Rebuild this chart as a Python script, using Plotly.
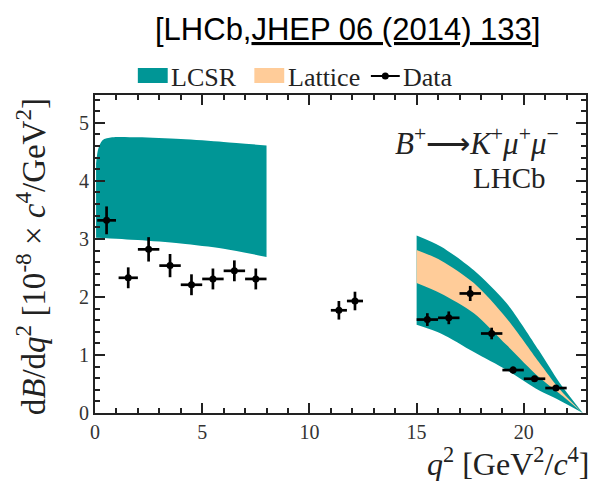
import plotly.graph_objects as go

# ---------------- data ----------------
bin_lo = [0.1, 1.1, 2.0, 3.0, 4.0, 5.0, 6.0, 7.0, 11.0, 11.75, 15.0, 16.0, 17.0, 18.0, 19.0, 20.0, 21.0]
bin_hi = [0.98, 2.0, 3.0, 4.0, 5.0, 6.0, 7.0, 8.0, 11.75, 12.5, 16.0, 17.0, 18.0, 19.0, 20.0, 21.0, 22.0]
dbdq2 = [3.32, 2.33, 2.82, 2.54, 2.21, 2.31, 2.45, 2.31, 1.77, 1.93, 1.61, 1.64, 2.06, 1.37, 0.74, 0.59, 0.43]
dbdq2_err = [0.24, 0.18, 0.21, 0.20, 0.18, 0.18, 0.18, 0.18, 0.16, 0.16, 0.11, 0.11, 0.13, 0.10, 0.06, 0.05, 0.04]

# LCSR band, low q2
lcsr_low_lo_x = [0.05, 2.0, 4.0, 6.0, 8.0]
lcsr_low_lo_y = [3.02, 2.98, 2.92, 2.83, 2.69]
lcsr_low_hi_x = [0.05, 0.15, 0.35, 0.8, 2.0, 4.0, 6.0, 8.0]
lcsr_low_hi_y = [4.30, 4.55, 4.70, 4.75, 4.75, 4.72, 4.67, 4.61]

# high q2 bands
hq_x = [15.0, 16.13, 17.67, 19.2, 20.7, 21.65, 22.75]
lcsr_high_lo_y = [1.52, 1.37, 1.05, 0.74, 0.39, 0.22, 0.0]
lcsr_high_hi_y = [3.06, 2.87, 2.46, 1.89, 1.08, 0.53, 0.0]
latt_lo_y = [2.24, 2.06, 1.72, 1.17, 0.62, 0.34, 0.0]
latt_hi_y = [2.81, 2.63, 2.24, 1.63, 0.88, 0.42, 0.0]

x_ticks = [0, 5, 10, 15, 20]
y_ticks = [0, 1, 2, 3, 4, 5]

TEAL = "rgb(0,150,150)"
ORANGE = "rgb(255,204,153)"
SERIF = "Liberation Serif"
SANS = "Liberation Sans"

# ---------------- layout geometry ----------------
W, H = 595, 481
L, R, T, B = 95, 7, 95, 68
PW, PH = W - L - R, H - T - B


def px(xp):
    return (xp - L) / PW


def py(yp):
    return (H - B - yp) / PH


fig = go.Figure()

centers = [(a + b) / 2 for a, b in zip(bin_lo, bin_hi)]
halfw = [(b - a) / 2 for a, b in zip(bin_lo, bin_hi)]

edge = dict(width=0, shape="spline", smoothing=0.8)

# LCSR low band
fig.add_trace(go.Scatter(x=lcsr_low_lo_x, y=lcsr_low_lo_y, mode="lines", line=edge,
                         showlegend=False, hoverinfo="skip"))
fig.add_trace(go.Scatter(x=lcsr_low_hi_x, y=lcsr_low_hi_y, mode="lines", line=edge,
                         fill="tonexty", fillcolor=TEAL, showlegend=False, name="LCSR"))
# LCSR high band
fig.add_trace(go.Scatter(x=hq_x, y=lcsr_high_lo_y, mode="lines", line=edge,
                         showlegend=False, hoverinfo="skip"))
fig.add_trace(go.Scatter(x=hq_x, y=lcsr_high_hi_y, mode="lines", line=edge,
                         fill="tonexty", fillcolor=TEAL, showlegend=False, name="LCSR"))
# Lattice band
fig.add_trace(go.Scatter(x=hq_x, y=latt_lo_y, mode="lines", line=edge,
                         showlegend=False, hoverinfo="skip"))
fig.add_trace(go.Scatter(x=hq_x, y=latt_hi_y, mode="lines", line=edge,
                         fill="tonexty", fillcolor=ORANGE, showlegend=False, name="Lattice"))

# Data
fig.add_trace(go.Scatter(
    x=centers, y=dbdq2, mode="markers", name="Data", showlegend=False,
    marker=dict(color="black", size=7),
    error_x=dict(type="data", array=halfw, width=0, thickness=2.7, color="black"),
    error_y=dict(type="data", array=dbdq2_err, width=0, thickness=2.7, color="black"),
))

axis_common = dict(
    showgrid=False, zeroline=False, showline=True, linewidth=2, linecolor="#222",
    mirror="allticks", ticks="inside", ticklen=10, tickwidth=2, tickcolor="#222",
    tickfont=dict(family=SERIF, size=20, color="#333"),
)

fig.update_xaxes(range=[0, 22.9], tickvals=x_ticks,
                 minor=dict(dtick=1, ticklen=5, tickwidth=2, tickcolor="#222", ticks="inside"),
                 **axis_common)
fig.update_yaxes(range=[0, 5.48], tickvals=y_ticks,
                 minor=dict(dtick=0.2, ticklen=5, tickwidth=2, tickcolor="#222", ticks="inside"),
                 **axis_common)

annotations = [
    dict(text="[LHCb,<u>JHEP 06 (2014) 133</u>]", x=px(349), y=py(30), xref="paper", yref="paper",
         showarrow=False, xanchor="center", yanchor="middle",
         font=dict(family=SANS, size=31, color="black")),
    dict(text="d<i>B</i>/d<i>q</i><sup>2</sup> [10<sup>-8</sup> × <i>c</i><sup>4</sup>/GeV<sup>2</sup>]",
         x=px(31), y=py(257), xref="paper", yref="paper", textangle=-90,
         showarrow=False, xanchor="center", yanchor="middle",
         font=dict(family=SERIF, size=33, color="#222")),
    dict(text="<i>q</i><sup>2</sup> [GeV<sup>2</sup>/<i>c</i><sup>4</sup>]",
         x=px(593), y=py(462), xref="paper", yref="paper",
         showarrow=False, xanchor="right", yanchor="middle",
         font=dict(family=SERIF, size=32, color="#222")),
    dict(text="<i>B</i><sup>+</sup>⟶<i>K</i><sup>+</sup><i>μ</i><sup>+</sup><i>μ</i><sup>−</sup>",
         x=px(563), y=py(141), xref="paper", yref="paper",
         showarrow=False, xanchor="right", yanchor="middle",
         font=dict(family=SERIF, size=31, color="#222")),
    dict(text="LHCb", x=px(550), y=py(178), xref="paper", yref="paper",
         showarrow=False, xanchor="right", yanchor="middle",
         font=dict(family=SERIF, size=29, color="#222")),
    # legend texts
    dict(text="LCSR", x=px(169), y=py(77), xref="paper", yref="paper",
         showarrow=False, xanchor="left", yanchor="middle",
         font=dict(family=SERIF, size=26, color="#222")),
    dict(text="Lattice", x=px(287), y=py(77), xref="paper", yref="paper",
         showarrow=False, xanchor="left", yanchor="middle",
         font=dict(family=SERIF, size=26, color="#222")),
    dict(text="Data", x=px(402), y=py(77), xref="paper", yref="paper",
         showarrow=False, xanchor="left", yanchor="middle",
         font=dict(family=SERIF, size=26, color="#222")),
]
fig.update_layout(annotations=annotations)

shapes = [
    dict(type="rect", xref="paper", yref="paper", x0=px(138), x1=px(168), y0=py(83), y1=py(68),
         fillcolor=TEAL, line=dict(width=0)),
    dict(type="rect", xref="paper", yref="paper", x0=px(255), x1=px(285), y0=py(83), y1=py(68),
         fillcolor=ORANGE, line=dict(width=0)),
    dict(type="line", xref="paper", yref="paper", x0=px(372), x1=px(401), y0=py(76), y1=py(76),
         line=dict(color="black", width=2)),
    dict(type="circle", xref="paper", yref="paper", x0=px(383), x1=px(390), y0=py(79.5), y1=py(72.5),
         fillcolor="black", line=dict(width=0)),
]
fig.update_layout(shapes=shapes)

fig.update_layout(
    width=W, height=H, margin=dict(l=L, r=R, t=T, b=B, pad=0),
    paper_bgcolor="white", plot_bgcolor="white", showlegend=False,
)

fig.write_html("out.html")
